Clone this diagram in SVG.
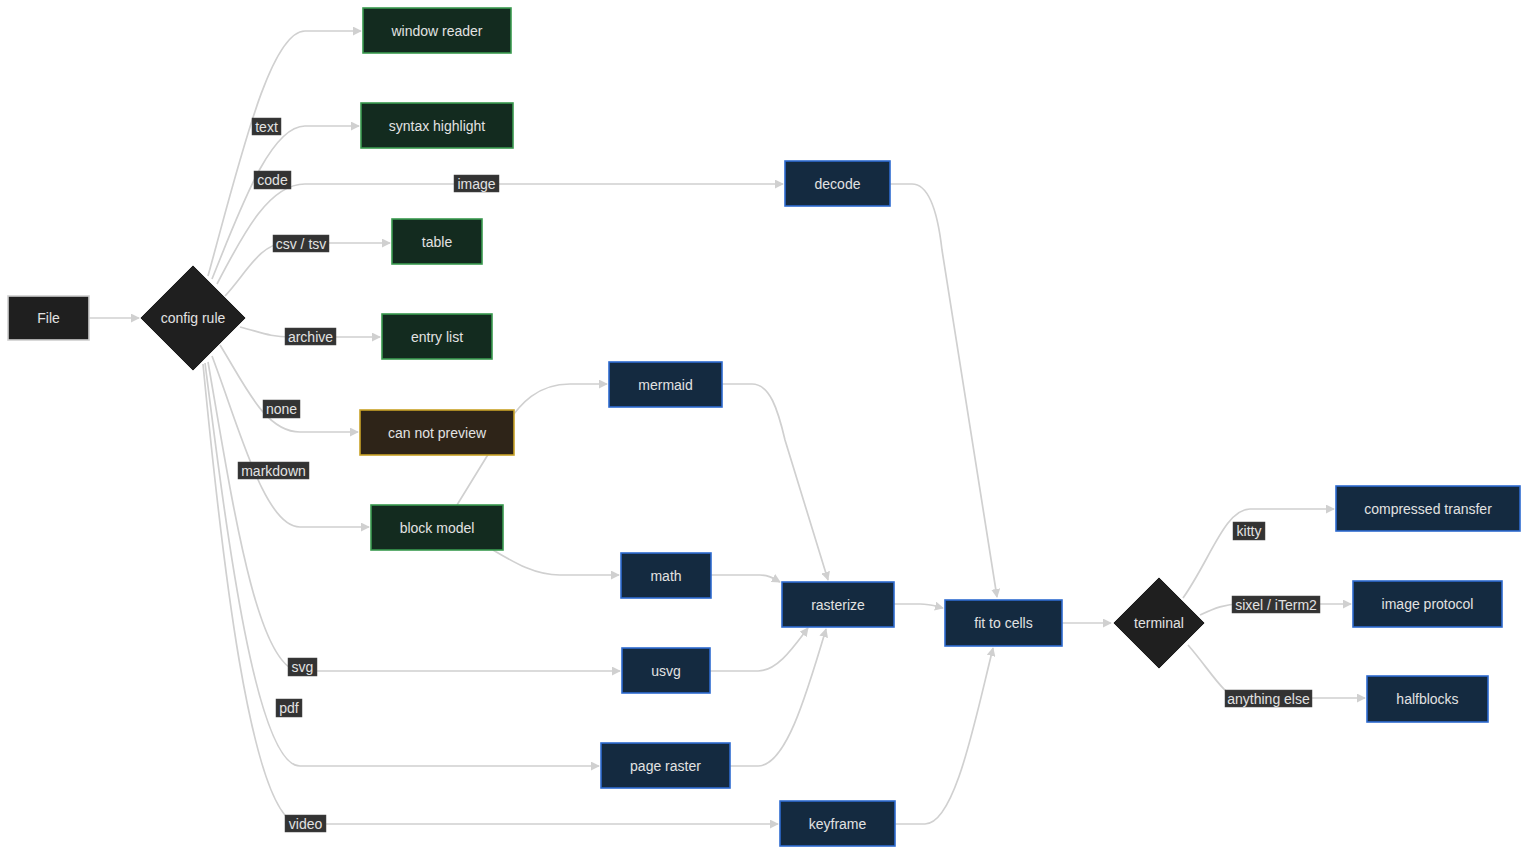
<svg xmlns="http://www.w3.org/2000/svg" width="1528" height="855" viewBox="0 0 1528 855">
<defs>
<marker id="arr" viewBox="0 0 10 10" refX="9" refY="5" markerWidth="9" markerHeight="9" markerUnits="userSpaceOnUse" orient="auto"><path d="M0,0 L10,5 L0,10 z" fill="#d0d0d0"/></marker>
<style>
.e{fill:none;stroke:#d0d0d0;stroke-width:1.7;marker-end:url(#arr)}
.t{font-family:"Liberation Sans",Arial,sans-serif;font-size:14px;fill:#e2e2e2;text-anchor:middle;dominant-baseline:central}
.lb rect{fill:#333333;stroke:#444;stroke-width:0.5}
.g{fill:#132b1f;stroke:#3a9a4f;stroke-width:1.6}
.b{fill:#142a40;stroke:#2e6bd0;stroke-width:1.6}
.br{fill:#2e2418;stroke:#c9a227;stroke-width:1.6}
.k{fill:#1f1f1f;stroke:#cfcfcf;stroke-width:1.6}
.d{fill:#1f1f1f;stroke:#e8e8e8;stroke-width:1}
</style>
</defs>
<rect width="1528" height="855" fill="#ffffff"/>
<g id="connectors">
<path class="e" d="M89,318 L139,318"/>
<path class="e" d="M208,276 C240,160 270,31 305,31 L361,31"/>
<path class="e" d="M212,279 C240,210 270,126 305,126 L359,126"/>
<path class="e" d="M217,284 C245,230 270,184 305,184 L783,184"/>
<path class="e" d="M225,296 C245,275 260,243 285,243 L390,243"/>
<path class="e" d="M240,327 C260,332 270,337 290,337 L380,337"/>
<path class="e" d="M220,345 C245,385 265,432 300,432 L358,432"/>
<path class="e" d="M212,356 C240,430 265,527 300,527 L369,527"/>
<path class="e" d="M208,362 C232,500 257,671 300,671 L620,671"/>
<path class="e" d="M205,363 C225,520 255,766 300,766 L599,766"/>
<path class="e" d="M203,364 C220,540 250,824 300,824 L778,824"/>
<path class="e" d="M457,505 L500,435 C520,400 540,384 570,384 L607,384"/>
<path class="e" d="M493,550 C515,563 535,575 560,575 L619,575"/>
<path class="e" d="M890,184 L912,184 C930,184 938,215 942,250 L997,597"/>
<path class="e" d="M722,384 L752,384 C770,384 778,410 785,440 L828,580"/>
<path class="e" d="M711,575 L760,575 C768,575 773,578 780,582"/>
<path class="e" d="M710,671 L758,671 C778,671 795,645 808,628"/>
<path class="e" d="M730,766 L758,766 C785,766 805,700 826,629"/>
<path class="e" d="M894,604 L920,604 C930,604 935,606 943,608"/>
<path class="e" d="M895,824 L925,824 C955,824 975,720 993,648"/>
<path class="e" d="M1062,623 L1111,623"/>
<path class="e" d="M1183,598 C1210,560 1225,509 1250,509 L1334,509"/>
<path class="e" d="M1200,615 C1215,608 1225,604 1240,604 L1351,604"/>
<path class="e" d="M1188,645 C1210,670 1225,698 1240,698 L1365,698"/>
</g>
<g id="edge-labels">
<g class="lb"><rect x="252" y="118" width="29" height="17"/><text class="t" x="266.5" y="127">text</text></g>
<g class="lb"><rect x="254" y="171" width="37" height="18"/><text class="t" x="272.5" y="180">code</text></g>
<g class="lb"><rect x="454" y="175" width="45" height="17"/><text class="t" x="476.5" y="184">image</text></g>
<g class="lb"><rect x="273" y="235" width="56" height="17"/><text class="t" x="301" y="243.5">csv / tsv</text></g>
<g class="lb"><rect x="285" y="328" width="51" height="17"/><text class="t" x="310.5" y="337">archive</text></g>
<g class="lb"><rect x="263" y="400" width="37" height="18"/><text class="t" x="281.5" y="409">none</text></g>
<g class="lb"><rect x="238" y="462" width="71" height="17"/><text class="t" x="273.5" y="470.5">markdown</text></g>
<g class="lb"><rect x="288" y="658" width="29" height="18"/><text class="t" x="302.5" y="667">svg</text></g>
<g class="lb"><rect x="276" y="699" width="26" height="18"/><text class="t" x="289" y="708">pdf</text></g>
<g class="lb"><rect x="285" y="815" width="41" height="17"/><text class="t" x="305.5" y="824">video</text></g>
<g class="lb"><rect x="1233" y="522" width="32" height="18"/><text class="t" x="1249" y="531">kitty</text></g>
<g class="lb"><rect x="1232" y="596" width="88" height="17"/><text class="t" x="1276" y="604.5">sixel / iTerm2</text></g>
<g class="lb"><rect x="1225" y="690" width="87" height="17"/><text class="t" x="1268.5" y="698.5">anything else</text></g>
</g>
<g id="node-file"><rect class="k" x="8" y="296" width="81" height="44"/><text class="t" x="48.5" y="318">File</text></g>
<g id="node-config"><polygon class="d" points="193,265 246,318 193,371 140,318"/><text class="t" x="193" y="318">config rule</text></g>
<g id="node-window"><rect class="g" x="363" y="8" width="148" height="45"/><text class="t" x="437" y="30.5">window reader</text></g>
<g id="node-syntax"><rect class="g" x="361" y="103" width="152" height="45"/><text class="t" x="437" y="125.5">syntax highlight</text></g>
<g id="node-table"><rect class="g" x="392" y="219" width="90" height="45"/><text class="t" x="437" y="241.5">table</text></g>
<g id="node-entry"><rect class="g" x="382" y="314" width="110" height="45"/><text class="t" x="437" y="336.5">entry list</text></g>
<g id="node-cannot"><rect class="br" x="360" y="410" width="154" height="45"/><text class="t" x="437" y="432.5">can not preview</text></g>
<g id="node-block"><rect class="g" x="371" y="505" width="132" height="45"/><text class="t" x="437" y="527.5">block model</text></g>
<g id="node-decode"><rect class="b" x="785" y="161" width="105" height="45"/><text class="t" x="837.5" y="183.5">decode</text></g>
<g id="node-mermaid"><rect class="b" x="609" y="362" width="113" height="45"/><text class="t" x="665.5" y="384.5">mermaid</text></g>
<g id="node-math"><rect class="b" x="621" y="553" width="90" height="45"/><text class="t" x="666" y="575.5">math</text></g>
<g id="node-usvg"><rect class="b" x="622" y="648" width="88" height="45"/><text class="t" x="666" y="670.5">usvg</text></g>
<g id="node-page"><rect class="b" x="601" y="743" width="129" height="45"/><text class="t" x="665.5" y="765.5">page raster</text></g>
<g id="node-keyframe"><rect class="b" x="780" y="801" width="115" height="45"/><text class="t" x="837.5" y="823.5">keyframe</text></g>
<g id="node-rasterize"><rect class="b" x="782" y="582" width="112" height="45"/><text class="t" x="838" y="604.5">rasterize</text></g>
<g id="node-fit"><rect class="b" x="945" y="600" width="117" height="46"/><text class="t" x="1003.5" y="623">fit to cells</text></g>
<g id="node-terminal"><polygon class="d" points="1159,577 1205,623 1159,669 1113,623"/><text class="t" x="1159" y="623">terminal</text></g>
<g id="node-compressed"><rect class="b" x="1336" y="486" width="184" height="45"/><text class="t" x="1428" y="508.5">compressed transfer</text></g>
<g id="node-imageproto"><rect class="b" x="1353" y="581" width="149" height="46"/><text class="t" x="1427.5" y="604">image protocol</text></g>
<g id="node-half"><rect class="b" x="1367" y="676" width="121" height="46"/><text class="t" x="1427.5" y="699">halfblocks</text></g>
</svg>
